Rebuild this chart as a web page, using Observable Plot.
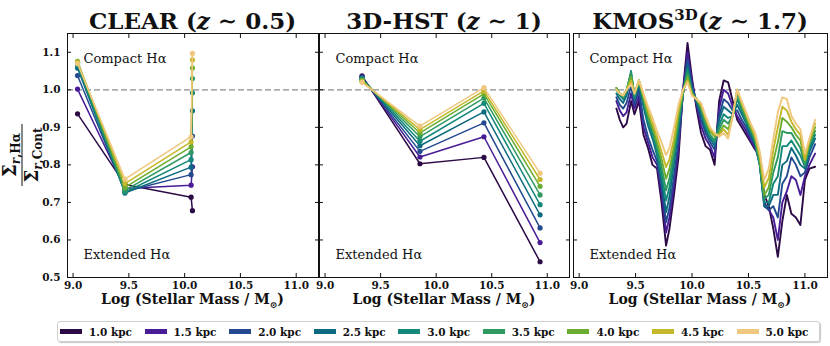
<!DOCTYPE html>
<html>
<head>
<meta charset="utf-8">
<script src="https://cdn.jsdelivr.net/npm/d3@7"></script>
<script src="https://cdn.jsdelivr.net/npm/@observablehq/plot@0.6"></script>
<style>
  body { margin: 0; background: #fff; }
  #root { position: relative; width: 830px; height: 346px; overflow: hidden; font-family: "DejaVu Serif", serif; background: #fff; }
  .panel { position: absolute; top: 0; }
  .panel svg { overflow: visible; }
  .title { position: absolute; top: 9px; font-weight: bold; font-size: 23px; line-height: 23px; white-space: nowrap; transform: translateX(-50%); color: #111; }
  .title sup { font-size: 15px; vertical-align: 0; position: relative; top: -9px; }
  .xlab { position: absolute; top: 291px; font-weight: bold; font-size: 14px; line-height: 16px; white-space: nowrap; transform: translateX(-50%); color: #111; }
  .xlab sub { font-size: 9px; vertical-align: 0; position: relative; top: 4px; }
  #legend { position: absolute; left: 57px; top: 321px; width: 763px; height: 21px; border: 1px solid #cfcfcf; border-radius: 3px; box-shadow: 1px 1px 1px #c8c8c8; display: flex; align-items: center; box-sizing: border-box; }
  .item { width: 86px; display: flex; align-items: center; padding-left: 2px; box-sizing: border-box; font-weight: bold; font-size: 10.5px; color: #111; white-space: nowrap; }
  .sw { display: inline-block; width: 22px; height: 5px; margin-right: 7px; }
</style>
</head>
<body>
<div id="root"></div>
<script>
// ---------------- data ----------------
const radii = ["1.0", "1.5", "2.0", "2.5", "3.0", "3.5", "4.0", "4.5", "5.0"];
const colors = ["#2c0a46", "#481c96", "#23498f", "#0e6a80", "#13877a", "#2e9a62", "#6aad30", "#c4b72a", "#efc77e"];

const xTicks = [9.0, 9.5, 10.0, 10.5, 11.0];
const yTicks = [0.5, 0.6, 0.7, 0.8, 0.9, 1.0, 1.1];

// CLEAR (z ~ 0.5)
const clearMass = [9.04, 9.465, 10.058, 10.07];
const clear10 = [0.936, 0.748, 0.714, 0.678];
const clear15 = [1.002, 0.737, 0.746, 0.795];
const clear20 = [1.038, 0.729, 0.774, 0.877];
const clear25 = [1.058, 0.725, 0.794, 0.944];
const clear30 = [1.066, 0.727, 0.814, 0.992];
const clear35 = [1.072, 0.732, 0.833, 1.030];
const clear40 = [1.076, 0.740, 0.848, 1.058];
const clear45 = [1.074, 0.750, 0.861, 1.080];
const clear50 = [1.070, 0.762, 0.875, 1.097];

// 3D-HST (z ~ 1)
const hstMass = [9.333, 9.854, 10.43, 10.935];
const hst10 = [1.037, 0.803, 0.820, 0.542];
const hst15 = [1.035, 0.821, 0.875, 0.593];
const hst20 = [1.033, 0.836, 0.912, 0.632];
const hst25 = [1.031, 0.851, 0.941, 0.667];
const hst30 = [1.029, 0.863, 0.964, 0.694];
const hst35 = [1.027, 0.875, 0.978, 0.720];
const hst40 = [1.025, 0.885, 0.989, 0.743];
const hst45 = [1.022, 0.894, 0.997, 0.761];
const hst50 = [1.020, 0.903, 1.006, 0.778];

// KMOS3D (z ~ 1.7)
const kmosMass = [9.33, 9.36, 9.39, 9.42, 9.46, 9.49, 9.53, 9.57, 9.61, 9.65, 9.69, 9.73, 9.77, 9.80, 9.84, 9.88, 9.92, 9.96, 10.00, 10.04, 10.08, 10.12, 10.16, 10.20, 10.24, 10.28, 10.32, 10.36, 10.40, 10.44, 10.48, 10.52, 10.56, 10.60, 10.64, 10.68, 10.72, 10.76, 10.80, 10.84, 10.88, 10.92, 10.96, 11.00, 11.04, 11.09];
const kmos10 = [0.95, 0.92, 0.90, 0.91, 0.97, 0.935, 0.97, 0.88, 0.845, 0.80, 0.79, 0.70, 0.585, 0.63, 0.72, 0.82, 1.00, 1.125, 1.03, 0.95, 0.885, 0.85, 0.84, 0.80, 0.97, 1.025, 1.02, 0.97, 0.92, 0.90, 0.88, 0.86, 0.84, 0.83, 0.72, 0.69, 0.63, 0.555, 0.65, 0.72, 0.67, 0.66, 0.64, 0.76, 0.79, 0.795];
const kmos15 = [0.97, 0.945, 0.93, 0.94, 0.99, 0.95, 0.985, 0.90, 0.86, 0.82, 0.80, 0.725, 0.62, 0.66, 0.745, 0.845, 0.995, 1.10, 1.02, 0.96, 0.905, 0.87, 0.85, 0.82, 0.95, 1.0, 0.99, 0.955, 0.93, 0.91, 0.89, 0.865, 0.845, 0.81, 0.70, 0.68, 0.66, 0.60, 0.70, 0.73, 0.77, 0.76, 0.72, 0.77, 0.80, 0.83];
const kmos20 = [0.98, 0.96, 0.95, 0.965, 1.01, 0.96, 1.0, 0.92, 0.875, 0.84, 0.81, 0.745, 0.647, 0.685, 0.77, 0.865, 0.99, 1.08, 1.01, 0.965, 0.92, 0.885, 0.86, 0.84, 0.93, 0.975, 0.965, 0.945, 0.945, 0.92, 0.90, 0.875, 0.85, 0.80, 0.69, 0.68, 0.69, 0.66, 0.75, 0.77, 0.82, 0.80, 0.77, 0.78, 0.82, 0.855];
const kmos25 = [0.99, 0.975, 0.965, 0.985, 1.04, 0.975, 1.01, 0.955, 0.905, 0.87, 0.825, 0.755, 0.674, 0.715, 0.805, 0.895, 0.99, 1.065, 1.0, 0.97, 0.935, 0.895, 0.87, 0.85, 0.92, 0.955, 0.945, 0.935, 0.96, 0.935, 0.91, 0.88, 0.855, 0.80, 0.69, 0.69, 0.72, 0.72, 0.80, 0.81, 0.845, 0.825, 0.80, 0.79, 0.835, 0.87];
const kmos30 = [1.00, 0.985, 0.975, 0.995, 1.05, 0.98, 1.02, 0.965, 0.915, 0.88, 0.835, 0.775, 0.705, 0.74, 0.82, 0.905, 0.99, 1.055, 0.995, 0.975, 0.945, 0.905, 0.875, 0.86, 0.905, 0.935, 0.925, 0.93, 0.975, 0.945, 0.915, 0.89, 0.86, 0.80, 0.70, 0.70, 0.75, 0.77, 0.85, 0.85, 0.865, 0.845, 0.825, 0.795, 0.845, 0.88];
const kmos35 = [1.005, 0.99, 0.98, 1.00, 1.045, 0.985, 1.025, 0.975, 0.925, 0.89, 0.85, 0.795, 0.732, 0.765, 0.835, 0.92, 0.99, 1.045, 0.99, 0.975, 0.95, 0.91, 0.88, 0.865, 0.895, 0.92, 0.91, 0.93, 0.99, 0.955, 0.92, 0.895, 0.865, 0.805, 0.71, 0.72, 0.78, 0.82, 0.89, 0.885, 0.885, 0.865, 0.845, 0.80, 0.855, 0.89];
const kmos40 = [1.005, 0.99, 0.985, 1.00, 1.035, 0.99, 1.025, 0.98, 0.935, 0.90, 0.86, 0.815, 0.763, 0.79, 0.85, 0.935, 0.995, 1.035, 0.99, 0.975, 0.955, 0.92, 0.89, 0.875, 0.885, 0.905, 0.895, 0.93, 1.0, 0.96, 0.93, 0.90, 0.87, 0.815, 0.72, 0.74, 0.81, 0.86, 0.925, 0.915, 0.90, 0.88, 0.865, 0.81, 0.86, 0.90];
const kmos45 = [1.00, 0.99, 0.985, 1.00, 1.025, 0.99, 1.025, 0.985, 0.945, 0.91, 0.875, 0.835, 0.794, 0.815, 0.87, 0.945, 1.0, 1.025, 0.985, 0.975, 0.96, 0.925, 0.895, 0.88, 0.88, 0.895, 0.88, 0.93, 1.0, 0.965, 0.935, 0.905, 0.875, 0.825, 0.74, 0.765, 0.84, 0.90, 0.955, 0.945, 0.915, 0.895, 0.88, 0.815, 0.865, 0.91];
const kmos50 = [1.00, 0.99, 0.985, 1.00, 1.015, 0.99, 1.025, 0.99, 0.955, 0.925, 0.89, 0.86, 0.826, 0.845, 0.90, 0.96, 1.00, 1.02, 0.985, 0.975, 0.965, 0.93, 0.90, 0.885, 0.875, 0.885, 0.87, 0.93, 1.00, 0.97, 0.94, 0.91, 0.885, 0.835, 0.76, 0.79, 0.87, 0.94, 0.98, 0.975, 0.93, 0.91, 0.895, 0.83, 0.87, 0.92];

// ---------------- build ----------------
function rows(mass, series) {
  return series.map((vals, i) => vals.map((v, j) => ({mass: mass[j], ratio: v, radius: radii[i]})));
}
const clearRows = rows(clearMass, [clear10, clear15, clear20, clear25, clear30, clear35, clear40, clear45, clear50]);
const hstRows = rows(hstMass, [hst10, hst15, hst20, hst25, hst30, hst35, hst40, hst45, hst50]);
const kmosRows = rows(kmosMass, [kmos10, kmos15, kmos20, kmos25, kmos30, kmos35, kmos40, kmos45, kmos50]);

function panel({series, width, marginLeft, marginRight, dots, yLabels, lineWidth}) {
  const marks = [
    Plot.ruleY([1.0], {stroke: "#8a8a8a", strokeWidth: 1.3, strokeDasharray: "6,3"})
  ];
  for (const s of series) {
    marks.push(Plot.line(s, {x: "mass", y: "ratio", stroke: "radius", strokeWidth: lineWidth, strokeLinejoin: "round"}));
    if (dots) marks.push(Plot.dot(s, {x: "mass", y: "ratio", fill: "radius", r: 2.6, stroke: "none"}));
  }
  marks.push(
    Plot.frame({stroke: "#111", strokeWidth: 1}),
    Plot.axisX(xTicks, {anchor: "bottom", tickSize: 0, tickPadding: 4, label: null, tickFormat: d => d.toFixed(1)}),
    Plot.axisX(xTicks, {anchor: "bottom", tickSize: -4, fill: "none", label: null}),
    Plot.axisX(xTicks, {anchor: "top", tickSize: -4, fill: "none", label: null}),
    Plot.axisY(yTicks, {anchor: "left", tickSize: -4, fill: "none", label: null}),
    Plot.axisY(yTicks, {anchor: "right", tickSize: -4, fill: "none", label: null}),
    Plot.text(["Compact H\u03b1"], {text: d => d, frameAnchor: "top-left", dx: 16, dy: 20, textAnchor: "start", fontSize: 13, fontWeight: "normal", fill: "#111"}),
    Plot.text(["Extended H\u03b1"], {text: d => d, frameAnchor: "bottom-left", dx: 16, dy: -19, textAnchor: "start", fontSize: 13, fontWeight: "normal", fill: "#111"})
  );
  if (yLabels) marks.push(Plot.axisY(yTicks, {anchor: "left", tickSize: 0, tickPadding: 7, label: null, tickFormat: d => d.toFixed(1)}));
  return Plot.plot({
    width, height: 310,
    marginLeft, marginRight, marginTop: 33, marginBottom: 33,
    x: {domain: [8.95, 11.2]},
    y: {domain: [0.5, 1.15]},
    color: {domain: radii, range: colors},
    style: {fontFamily: "DejaVu Serif", fontWeight: "bold", fontSize: "10.5px", background: "transparent", color: "#111", overflow: "visible"},
    marks
  });
}

const root = document.getElementById("root");
function place(el, left) {
  const d = document.createElement("div");
  d.className = "panel";
  d.style.left = left + "px";
  d.appendChild(el);
  root.appendChild(d);
}
place(panel({series: clearRows, width: 319, marginLeft: 67, marginRight: 1, dots: true, yLabels: true, lineWidth: 1.5}), 0);
place(panel({series: hstRows, width: 270, marginLeft: 19, marginRight: 1, dots: true, yLabels: false, lineWidth: 1.5}), 300);
place(panel({series: kmosRows, width: 277, marginLeft: 20, marginRight: 3, dots: false, yLabels: false, lineWidth: 1.9}), 553);

// titles
const titles = [
  {x: 192.5, html: "CLEAR (<i>z</i> \u223c 0.5)"},
  {x: 444, html: "3D-HST (<i>z</i> \u223c 1)"},
  {x: 700, html: "KMOS<sup>3D</sup>(<i>z</i> \u223c 1.7)"}
];
for (const t of titles) {
  const d = document.createElement("div");
  d.className = "title";
  d.style.left = t.x + "px";
  d.innerHTML = t.html;
  root.appendChild(d);
}
// x labels
for (const cx of [192.5, 444, 700]) {
  const d = document.createElement("div");
  d.className = "xlab";
  d.style.left = cx + "px";
  d.innerHTML = "Log (Stellar Mass / M<sub>\u2299</sub>)";
  root.appendChild(d);
}
// y label (fraction)
const ns = "http://www.w3.org/2000/svg";
const ysvg = document.createElementNS(ns, "svg");
ysvg.setAttribute("width", "60");
ysvg.setAttribute("height", "310");
ysvg.style.position = "absolute";
ysvg.style.left = "0px";
ysvg.style.top = "0px";
ysvg.innerHTML = `
<g transform="translate(22,155) rotate(-90)" font-family="DejaVu Serif" font-weight="bold" fill="#111">
  <text x="0" y="-6" text-anchor="middle" font-size="18">\u03a3<tspan font-size="12" dy="4" font-style="italic">r</tspan><tspan font-size="12">,H\u03b1</tspan></text>
  <line x1="-31" x2="31" y1="0" y2="0" stroke="#111" stroke-width="1"/>
  <text x="0" y="16" text-anchor="middle" font-size="18">\u03a3<tspan font-size="12" dy="4" font-style="italic">r</tspan><tspan font-size="12">,Cont</tspan></text>
</g>`;
root.appendChild(ysvg);

// legend
const leg = document.createElement("div");
leg.id = "legend";
radii.forEach((r, i) => {
  const it = document.createElement("div");
  it.className = "item";
  it.innerHTML = `<span class="sw" style="background:${colors[i]}"></span>${r} kpc`;
  leg.appendChild(it);
});
root.appendChild(leg);
</script>
</body>
</html>
